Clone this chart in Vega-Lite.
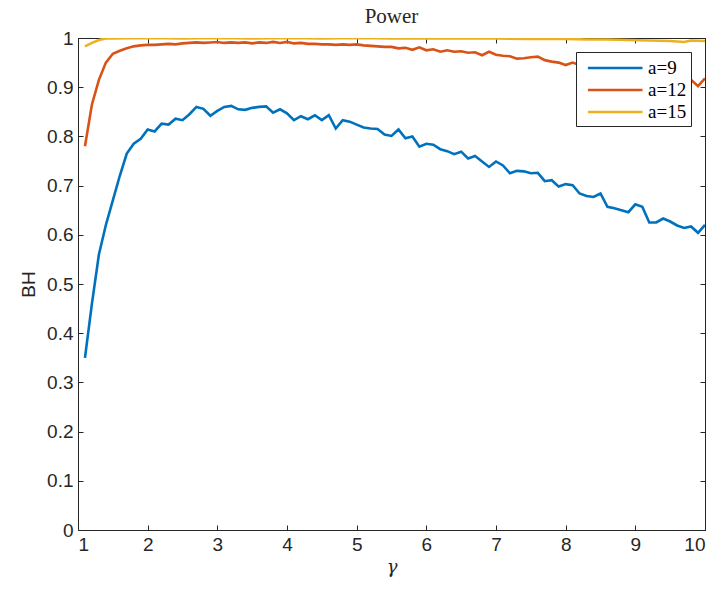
{
  "$schema": "https://vega.github.io/schema/vega-lite/v6.json",
  "autosize": {"type": "none"},
  "width": 627,
  "height": 492,
  "padding": {"left": 78, "top": 38, "right": 12, "bottom": 60},
  "background": "white",
  "config": {
    "view": {"stroke": "#262626", "strokeWidth": 1},
    "axis": {"grid": false, "domainColor": "#262626", "tickColor": "#262626", "labelColor": "#262626", "titleColor": "#262626", "labelFont": "Arial", "labelFontSize": 19, "tickSize": -5, "labelPadding": 10, "domainWidth": 1, "tickWidth": 1}
  },
  "title": {"text": "Power", "font": "Liberation Serif", "fontSize": 21, "fontWeight": "normal", "color": "#262626", "offset": 2, "anchor": "middle"},
  "datasets": {
    "d": [
      {"g":1.1,"s":"a=9","v":0.35},{"g":1.2,"s":"a=9","v":0.46},{"g":1.3,"s":"a=9","v":0.56},{"g":1.4,"s":"a=9","v":0.62},{"g":1.5,"s":"a=9","v":0.67},{"g":1.6,"s":"a=9","v":0.72},{"g":1.7,"s":"a=9","v":0.765},{"g":1.8,"s":"a=9","v":0.785},{"g":1.9,"s":"a=9","v":0.795},{"g":2.0,"s":"a=9","v":0.814},
      {"g":2.1,"s":"a=9","v":0.81},{"g":2.2,"s":"a=9","v":0.826},{"g":2.3,"s":"a=9","v":0.824},{"g":2.4,"s":"a=9","v":0.836},{"g":2.5,"s":"a=9","v":0.833},{"g":2.6,"s":"a=9","v":0.845},{"g":2.7,"s":"a=9","v":0.86},{"g":2.8,"s":"a=9","v":0.856},{"g":2.9,"s":"a=9","v":0.842},{"g":3.0,"s":"a=9","v":0.852},
      {"g":3.1,"s":"a=9","v":0.86},{"g":3.2,"s":"a=9","v":0.862},{"g":3.3,"s":"a=9","v":0.855},{"g":3.4,"s":"a=9","v":0.854},{"g":3.5,"s":"a=9","v":0.858},{"g":3.6,"s":"a=9","v":0.86},{"g":3.7,"s":"a=9","v":0.861},{"g":3.8,"s":"a=9","v":0.848},{"g":3.9,"s":"a=9","v":0.855},{"g":4.0,"s":"a=9","v":0.847},
      {"g":4.1,"s":"a=9","v":0.833},{"g":4.2,"s":"a=9","v":0.841},{"g":4.3,"s":"a=9","v":0.835},{"g":4.4,"s":"a=9","v":0.843},{"g":4.5,"s":"a=9","v":0.833},{"g":4.6,"s":"a=9","v":0.843},{"g":4.7,"s":"a=9","v":0.816},{"g":4.8,"s":"a=9","v":0.833},{"g":4.9,"s":"a=9","v":0.83},{"g":5.0,"s":"a=9","v":0.824},
      {"g":5.1,"s":"a=9","v":0.818},{"g":5.2,"s":"a=9","v":0.816},{"g":5.3,"s":"a=9","v":0.815},{"g":5.4,"s":"a=9","v":0.804},{"g":5.5,"s":"a=9","v":0.801},{"g":5.6,"s":"a=9","v":0.814},{"g":5.7,"s":"a=9","v":0.796},{"g":5.8,"s":"a=9","v":0.8},{"g":5.9,"s":"a=9","v":0.779},{"g":6.0,"s":"a=9","v":0.785},
      {"g":6.1,"s":"a=9","v":0.783},{"g":6.2,"s":"a=9","v":0.774},{"g":6.3,"s":"a=9","v":0.77},{"g":6.4,"s":"a=9","v":0.764},{"g":6.5,"s":"a=9","v":0.769},{"g":6.6,"s":"a=9","v":0.755},{"g":6.7,"s":"a=9","v":0.76},{"g":6.8,"s":"a=9","v":0.749},{"g":6.9,"s":"a=9","v":0.738},{"g":7.0,"s":"a=9","v":0.749},
      {"g":7.1,"s":"a=9","v":0.741},{"g":7.2,"s":"a=9","v":0.725},{"g":7.3,"s":"a=9","v":0.73},{"g":7.4,"s":"a=9","v":0.729},{"g":7.5,"s":"a=9","v":0.725},{"g":7.6,"s":"a=9","v":0.726},{"g":7.7,"s":"a=9","v":0.709},{"g":7.8,"s":"a=9","v":0.711},{"g":7.9,"s":"a=9","v":0.698},{"g":8.0,"s":"a=9","v":0.703},
      {"g":8.1,"s":"a=9","v":0.701},{"g":8.2,"s":"a=9","v":0.684},{"g":8.3,"s":"a=9","v":0.679},{"g":8.4,"s":"a=9","v":0.677},{"g":8.5,"s":"a=9","v":0.684},{"g":8.6,"s":"a=9","v":0.657},{"g":8.7,"s":"a=9","v":0.654},{"g":8.8,"s":"a=9","v":0.65},{"g":8.9,"s":"a=9","v":0.646},{"g":9.0,"s":"a=9","v":0.662},
      {"g":9.1,"s":"a=9","v":0.657},{"g":9.2,"s":"a=9","v":0.625},{"g":9.3,"s":"a=9","v":0.625},{"g":9.4,"s":"a=9","v":0.633},{"g":9.5,"s":"a=9","v":0.627},{"g":9.6,"s":"a=9","v":0.619},{"g":9.7,"s":"a=9","v":0.614},{"g":9.8,"s":"a=9","v":0.617},{"g":9.9,"s":"a=9","v":0.604},{"g":10.0,"s":"a=9","v":0.62},

      {"g":1.1,"s":"a=12","v":0.78},{"g":1.2,"s":"a=12","v":0.865},{"g":1.3,"s":"a=12","v":0.915},{"g":1.4,"s":"a=12","v":0.95},{"g":1.5,"s":"a=12","v":0.968},{"g":1.6,"s":"a=12","v":0.974},{"g":1.7,"s":"a=12","v":0.979},{"g":1.8,"s":"a=12","v":0.983},{"g":1.9,"s":"a=12","v":0.985},{"g":2.0,"s":"a=12","v":0.986},
      {"g":2.1,"s":"a=12","v":0.986},{"g":2.2,"s":"a=12","v":0.987},{"g":2.3,"s":"a=12","v":0.988},{"g":2.4,"s":"a=12","v":0.987},{"g":2.5,"s":"a=12","v":0.989},{"g":2.6,"s":"a=12","v":0.99},{"g":2.7,"s":"a=12","v":0.991},{"g":2.8,"s":"a=12","v":0.99},{"g":2.9,"s":"a=12","v":0.991},{"g":3.0,"s":"a=12","v":0.992},
      {"g":3.1,"s":"a=12","v":0.99},{"g":3.2,"s":"a=12","v":0.991},{"g":3.3,"s":"a=12","v":0.99},{"g":3.4,"s":"a=12","v":0.991},{"g":3.5,"s":"a=12","v":0.989},{"g":3.6,"s":"a=12","v":0.991},{"g":3.7,"s":"a=12","v":0.99},{"g":3.8,"s":"a=12","v":0.992},{"g":3.9,"s":"a=12","v":0.99},{"g":4.0,"s":"a=12","v":0.992},
      {"g":4.1,"s":"a=12","v":0.989},{"g":4.2,"s":"a=12","v":0.99},{"g":4.3,"s":"a=12","v":0.988},{"g":4.4,"s":"a=12","v":0.988},{"g":4.5,"s":"a=12","v":0.987},{"g":4.6,"s":"a=12","v":0.987},{"g":4.7,"s":"a=12","v":0.986},{"g":4.8,"s":"a=12","v":0.987},{"g":4.9,"s":"a=12","v":0.986},{"g":5.0,"s":"a=12","v":0.987},
      {"g":5.1,"s":"a=12","v":0.985},{"g":5.2,"s":"a=12","v":0.984},{"g":5.3,"s":"a=12","v":0.983},{"g":5.4,"s":"a=12","v":0.982},{"g":5.5,"s":"a=12","v":0.982},{"g":5.6,"s":"a=12","v":0.979},{"g":5.7,"s":"a=12","v":0.98},{"g":5.8,"s":"a=12","v":0.976},{"g":5.9,"s":"a=12","v":0.981},{"g":6.0,"s":"a=12","v":0.975},
      {"g":6.1,"s":"a=12","v":0.977},{"g":6.2,"s":"a=12","v":0.972},{"g":6.3,"s":"a=12","v":0.975},{"g":6.4,"s":"a=12","v":0.972},{"g":6.5,"s":"a=12","v":0.973},{"g":6.6,"s":"a=12","v":0.97},{"g":6.7,"s":"a=12","v":0.971},{"g":6.8,"s":"a=12","v":0.965},{"g":6.9,"s":"a=12","v":0.972},{"g":7.0,"s":"a=12","v":0.966},
      {"g":7.1,"s":"a=12","v":0.964},{"g":7.2,"s":"a=12","v":0.963},{"g":7.3,"s":"a=12","v":0.958},{"g":7.4,"s":"a=12","v":0.959},{"g":7.5,"s":"a=12","v":0.961},{"g":7.6,"s":"a=12","v":0.962},{"g":7.7,"s":"a=12","v":0.955},{"g":7.8,"s":"a=12","v":0.952},{"g":7.9,"s":"a=12","v":0.95},{"g":8.0,"s":"a=12","v":0.945},
      {"g":8.1,"s":"a=12","v":0.95},{"g":8.2,"s":"a=12","v":0.945},{"g":8.3,"s":"a=12","v":0.943},{"g":8.4,"s":"a=12","v":0.941},{"g":8.5,"s":"a=12","v":0.94},{"g":8.6,"s":"a=12","v":0.938},{"g":8.7,"s":"a=12","v":0.936},{"g":8.8,"s":"a=12","v":0.935},{"g":8.9,"s":"a=12","v":0.933},{"g":9.0,"s":"a=12","v":0.932},
      {"g":9.1,"s":"a=12","v":0.93},{"g":9.2,"s":"a=12","v":0.928},{"g":9.3,"s":"a=12","v":0.927},{"g":9.4,"s":"a=12","v":0.925},{"g":9.5,"s":"a=12","v":0.924},{"g":9.6,"s":"a=12","v":0.922},{"g":9.7,"s":"a=12","v":0.921},{"g":9.8,"s":"a=12","v":0.915},{"g":9.9,"s":"a=12","v":0.902},{"g":10.0,"s":"a=12","v":0.918},

      {"g":1.1,"s":"a=15","v":0.983},{"g":1.2,"s":"a=15","v":0.99},{"g":1.3,"s":"a=15","v":0.996},{"g":1.4,"s":"a=15","v":0.999},{"g":1.5,"s":"a=15","v":0.999},{"g":2.0,"s":"a=15","v":1.0},{"g":2.5,"s":"a=15","v":0.999},{"g":3.0,"s":"a=15","v":1.0},{"g":3.5,"s":"a=15","v":0.999},{"g":4.0,"s":"a=15","v":1.0},
      {"g":4.5,"s":"a=15","v":0.999},{"g":5.0,"s":"a=15","v":1.0},{"g":5.5,"s":"a=15","v":0.999},{"g":6.0,"s":"a=15","v":0.999},{"g":6.5,"s":"a=15","v":0.999},{"g":7.0,"s":"a=15","v":0.999},{"g":7.5,"s":"a=15","v":0.998},{"g":8.0,"s":"a=15","v":0.998},{"g":8.3,"s":"a=15","v":0.997},{"g":8.6,"s":"a=15","v":0.997},
      {"g":8.9,"s":"a=15","v":0.996},{"g":9.2,"s":"a=15","v":0.995},{"g":9.5,"s":"a=15","v":0.994},{"g":9.7,"s":"a=15","v":0.992},{"g":9.8,"s":"a=15","v":0.995},{"g":10.0,"s":"a=15","v":0.994}
    ]
  },
  "layer": [
    {
      "data": {"name": "d"},
      "mark": {"type": "line", "strokeWidth": 2.6, "clip": true},
      "encoding": {
        "x": {"field": "g", "type": "quantitative", "scale": {"domain": [1, 10], "nice": false},
              "axis": {"values": [1,2,3,4,5,6,7,8,9,10], "format": "d", "title": "γ", "titleFont": "DejaVu Serif", "titleFontStyle": "italic", "titleFontWeight": "normal", "titleFontSize": 18, "titlePadding": 4}},
        "y": {"field": "v", "type": "quantitative", "scale": {"domain": [0, 1], "nice": false},
              "axis": {"values": [0,0.1,0.2,0.3,0.4,0.5,0.6,0.7,0.8,0.9,1], "format": ".1~f", "title": "BH", "titleFont": "Arial", "titleFontWeight": "normal", "titleFontSize": 19, "titlePadding": 8}},
        "color": {"field": "s", "type": "nominal",
                  "scale": {"domain": ["a=9", "a=12", "a=15"], "range": ["#0072BD", "#D95319", "#EDB120"]},
                  "legend": {"title": null, "orient": "none", "legendX": 498, "legendY": 14, "symbolType": "M-4.2,0H1", "symbolSize": 441, "symbolStrokeWidth": 2.6, "symbolFillColor": "transparent", "labelFont": "Liberation Serif", "labelFontSize": 19, "labelColor": "#000", "fillColor": "white", "strokeColor": "#262626", "padding": 4, "rowPadding": 0, "labelOffset": 4, "symbolOffset": 40}}
      }
    },
    {
      "data": {"name": "d"},
      "mark": {"type": "point", "opacity": 0},
      "encoding": {
        "x": {"field": "g", "type": "quantitative", "scale": {"domain": [1, 10], "nice": false},
              "axis": {"orient": "top", "values": [1,2,3,4,5,6,7,8,9,10], "labels": false, "title": null}},
        "y": {"field": "v", "type": "quantitative", "scale": {"domain": [0, 1], "nice": false},
              "axis": {"orient": "right", "values": [0,0.1,0.2,0.3,0.4,0.5,0.6,0.7,0.8,0.9,1], "labels": false, "title": null}}
      }
    }
  ],
  "resolve": {"axis": {"x": "independent", "y": "independent"}}
}
